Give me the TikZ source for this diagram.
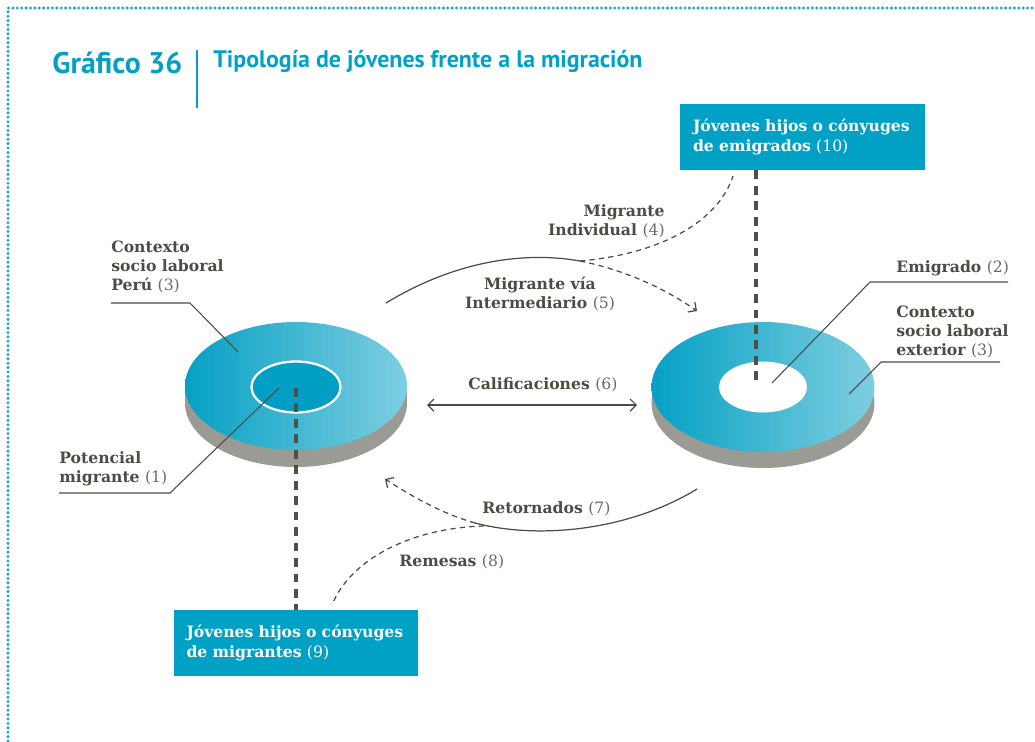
\documentclass[tikz,border=0pt]{standalone}
\usepackage{fontspec}
\setmainfont{DejaVu Serif}
\newfontfamily\titulofont{PT Sans}
\usetikzlibrary{arrows.meta}

\definecolor{cian}{HTML}{00A1C4}
\definecolor{borde}{HTML}{1FA6CC}
\definecolor{gradizq}{HTML}{05A0C4}
\definecolor{gradder}{HTML}{7ECEE0}
\definecolor{centro}{HTML}{009FC3}
\definecolor{lado}{HTML}{9A9B94}
\definecolor{textgris}{HTML}{4C4C44}
\definecolor{numgris}{HTML}{6A6A62}
\definecolor{ejegris}{HTML}{4F4F4A}

\newcommand{\nro}[1]{{\mdseries\color{numgris}(#1)}}
\newcommand{\nrob}[1]{{\mdseries(#1)}}

\begin{document}
\begin{tikzpicture}[x=0.02cm,y=-0.02cm,
    etiq/.style={inner sep=0pt, text=textgris, font=\fontsize{8.9}{10.7}\selectfont\bfseries},
    caja/.style={fill=cian, text=white, minimum width=4.9cm, minimum height=1.32cm,
      text width=4.38cm, align=left, inner sep=0pt, font=\fontsize{8.9}{11.2}\selectfont\bfseries},
    guia/.style={draw=textgris, line width=0.6pt},
    flujo/.style={draw=textgris, line width=0.7pt},
    punteado/.style={flujo, dash pattern=on 3pt off 2.4pt},
    eje/.style={draw=ejegris, line width=2.3pt, dash pattern=on 5pt off 3.8pt},
    punta/.style={-{Straight Barb[length=3.5pt,width=7pt]}}
  ]

  \useasboundingbox (0,0) rectangle (1035,741);

  % marco punteado
  \draw[borde, line width=1.9pt, line cap=round, dash pattern=on 0pt off 2.5pt]
    (8,741) -- (8,8) -- (1035,8);

  % titulo
  \node[anchor=base west, inner sep=0pt, text=cian, font=\titulofont\fontsize{17}{20}\selectfont\bfseries]
    (grafico) at (52,73) {Gráfico 36};
  \draw[cian, line width=0.8pt] (197,50) -- (197,108);
  \node[anchor=base west, inner sep=0pt, text=cian, font=\titulofont\fontsize{13.6}{16}\selectfont\bfseries]
    (titulo) at (213,67) {Tipología de jóvenes frente a la migración};

  % disco izquierdo (Peru)
  \fill[lado] (296,403) ellipse [x radius=2.22cm, y radius=1.28cm];
  \fill[lado] (185,386) rectangle (407,403);
  \shade[left color=gradizq, right color=gradder] (296,386) ellipse [x radius=2.22cm, y radius=1.28cm];
  \draw[white, line width=1.3pt, fill=centro] (296,387) ellipse [x radius=0.89cm, y radius=0.51cm];

  % disco derecho (exterior)
  \fill[lado] (763,403) ellipse [x radius=2.23cm, y radius=1.3cm];
  \fill[lado] (652,387) rectangle (874,403);
  \shade[left color=gradizq, right color=gradder] (763,387) ellipse [x radius=2.23cm, y radius=1.3cm];
  \fill[white] (763,387) ellipse [x radius=0.88cm, y radius=0.51cm];

  % cajas de jovenes
  \node[caja] (emigrados) at (802.5,137) {Jóvenes hijos o cónyuges\\de emigrados \nrob{10}};
  \node[caja] (migrantes) at (296,643) {Jóvenes hijos o cónyuges\\de migrantes \nrob{9}};

  % ejes punteados gruesos
  \coordinate (ejeder) at (756,383);
  \coordinate (ejeizq) at (296,388);
  \draw[eje] (emigrados.south -| ejeder) -- (ejeder);
  \draw[eje] (ejeizq) -- (migrantes.north -| ejeizq);

  % etiquetas con lineas guia (base = ultima linea)
  \node[etiq, anchor=base west, align=left] (ctxperu) at (111,290)
    {Contexto\\socio laboral\\Perú \nro{3}};
  \coordinate (ptperu) at (238,352);
  \draw[guia] (111,303) -- (190,303) -- (ptperu);

  \node[etiq, anchor=base west, align=left] (potencial) at (59,482)
    {Potencial\\migrante \nro{1}};
  \coordinate (ptpot) at (279,388);
  \draw[guia] (59,493) -- (170,493) -- (ptpot);

  \node[etiq, anchor=base west, align=left] (emigrado) at (896,272) {Emigrado \nro{2}};
  \coordinate (ptemi) at (772,383);
  \draw[guia] (1008,282) -- (870,282) -- (ptemi);

  \node[etiq, anchor=base west, align=left] (ctxext) at (896,355)
    {Contexto\\socio laboral\\exterior \nro{3}};
  \coordinate (ptext) at (849,394);
  \draw[guia] (1000,362) -- (881,362) -- (ptext);

  % flujos entre los discos
  \coordinate (salida) at (386,303);
  \coordinate (cruce) at (580,261);
  \coordinate (llegada) at (697,311);
  \coordinate (fincaja) at (733,176);
  \draw[flujo] (salida) .. controls (460,258) and (530,252) .. (cruce);
  \draw[punteado, punta] (cruce) .. controls (630,271) and (670,292) .. (llegada);
  \draw[punteado] (cruce) .. controls (660,254) and (718,222) .. (fincaja);

  \node[etiq, anchor=base east, align=right] (individual) at (665,235)
    {Migrante\\Individual \nro{4}};
  \node[etiq, anchor=base, align=center] (intermediario) at (540,308)
    {Migrante vía\\Intermediario \nro{5}};

  \coordinate (calizq) at (427,405);
  \coordinate (calder) at (637,405);
  \draw[flujo, {Straight Barb[length=3.5pt,width=7pt]}-{Straight Barb[length=3.5pt,width=7pt]}]
    (calizq) -- (calder);
  \node[etiq, anchor=base west] (calificaciones) at (468,389) {Calificaciones \nro{6}};

  \coordinate (retorno) at (697,489);
  \coordinate (cruce2) at (475,523);
  \coordinate (regreso) at (385,479);
  \coordinate (inicaja) at (332,605);
  \draw[flujo] (retorno) .. controls (630,530) and (540,540) .. (cruce2);
  \draw[punteado, punta] (cruce2) .. controls (440,513) and (410,495) .. (regreso);
  \draw[punteado] (484,526) .. controls (410,528) and (350,560) .. (inicaja);

  \node[etiq, anchor=base west] (retornados) at (482,513) {Retornados \nro{7}};
  \node[etiq, anchor=base west] (remesas) at (399,566) {Remesas \nro{8}};

\end{tikzpicture}
\end{document}
